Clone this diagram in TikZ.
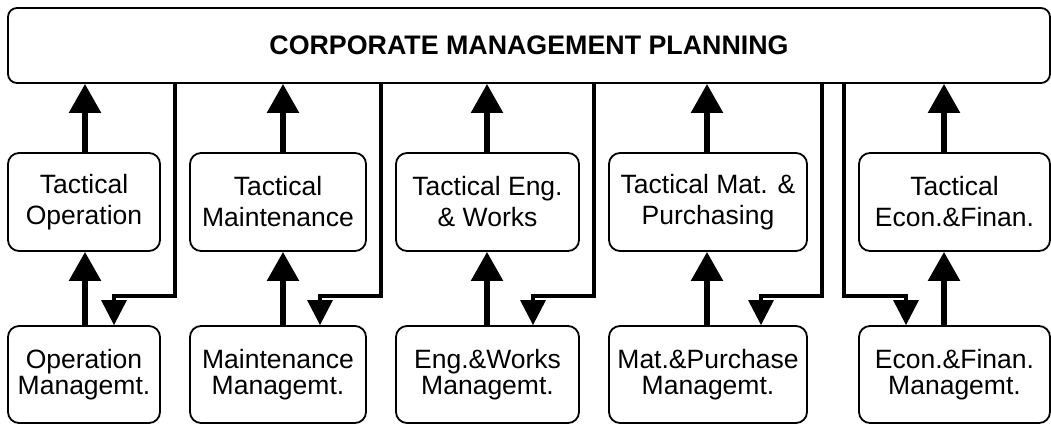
\documentclass[tikz,border=0pt]{standalone}
\usepackage{fontspec}
\setmainfont{Liberation Sans}
\usetikzlibrary{arrows.meta}
\begin{document}
\begin{tikzpicture}[x=1pt, y=-1pt,
  box/.style={draw=black, line width=1.8pt, rounded corners=11pt, inner sep=0pt,
              align=center, fill=white},
  planbox/.style={box, rounded corners=9pt, minimum width=1042pt, minimum height=75pt,
              font=\fontsize{26.8}{30}\selectfont\bfseries},
  tacbox/.style={box, minimum height=98pt, font=\fontsize{26.5}{31}\selectfont},
  mgmtbox/.style={box, minimum height=97pt, font=\fontsize{26.5}{26.5}\selectfont},
  uparrow/.style={line width=5.5pt, -{Triangle[length=29pt, width=31pt]}},
  feedback/.style={line width=3.2pt, -{Triangle[length=25pt, width=25pt]}}
]
\fill[white] (0,0) rectangle (1051,426);
\useasboundingbox (0,0) rectangle (1051,426);

% corporate level
\node[planbox] (cmp) at (529,45.5) {CORPORATE MANAGEMENT PLANNING};

% tactical level
\node[tacbox, minimum width=152pt] (t1) at (84,202)    {Tactical\\Operation};
\node[tacbox, minimum width=176pt] (t2) at (278,202)   {Tactical\\Maintenance};
\node[tacbox, minimum width=183pt] (t3) at (487.5,202) {Tactical Eng.\\\& Works};
\node[tacbox, minimum width=198pt] (t4) at (708,202)   {Tactical Mat. \&\\Purchasing};
\node[tacbox, minimum width=191pt] (t5) at (954.5,202) {Tactical\\Econ.\&Finan.};

% operational management level
\node[mgmtbox, minimum width=152pt] (m1) at (84,374.5)    {Operation\\Managemt.};
\node[mgmtbox, minimum width=176pt] (m2) at (278,374.5)   {Maintenance\\Managemt.};
\node[mgmtbox, minimum width=183pt] (m3) at (487.5,374.5) {Eng.\&Works\\Managemt.};
\node[mgmtbox, minimum width=198pt] (m4) at (708,374.5)   {Mat.\&Purchase\\Managemt.};
\node[mgmtbox, minimum width=191pt] (m5) at (954.5,374.5) {Econ.\&Finan.\\Managemt.};

% reporting upwards
\foreach \i/\ax in {1/85, 2/283, 3/487, 4/707, 5/944} {
  \draw[uparrow] (m\i.north -| \ax,0) -- (t\i.south -| \ax,0);
  \draw[uparrow] (t\i.north -| \ax,0) -- (cmp.south -| \ax,0);
}

% directives downwards
\foreach \i/\vx/\hx in {1/175/114, 2/381/320, 3/594/533, 4/822/761, 5/844/906} {
  \draw[feedback] (cmp.south -| \vx,0) -- (\vx,296) -- (\hx,296) -- (m\i.north -| \hx,0);
}
\end{tikzpicture}
\end{document}
